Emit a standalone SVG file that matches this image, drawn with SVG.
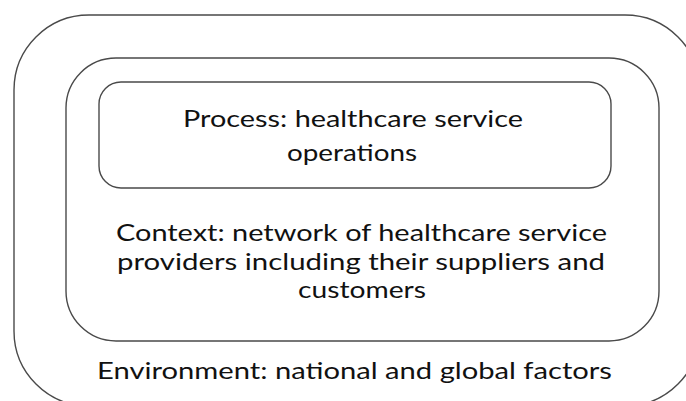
<svg xmlns="http://www.w3.org/2000/svg" width="686" height="401" viewBox="0 0 686 401">
  <style>
    .frame { fill: none; stroke: #4a4a4a; stroke-width: 1.4; }
    .label { font-family: Lato, "Open Sans", "Liberation Sans", sans-serif; font-size: 23px; fill: #111111; }
  </style>
  <rect x="0" y="0" width="686" height="401" fill="#ffffff"/>

  <!-- Environment: outermost layer -->
  <g id="environment">
    <rect class="frame" x="14" y="15" width="686" height="391" rx="75" ry="75"/>
    <text class="label" x="97" y="379" textLength="515" lengthAdjust="spacingAndGlyphs">Environment: national and global factors</text>
  </g>

  <!-- Context: network of providers -->
  <g id="context">
    <rect class="frame" x="66" y="58" width="593" height="283" rx="50" ry="50"/>
    <text class="label" x="116" y="241" textLength="491" lengthAdjust="spacingAndGlyphs">Context: network of healthcare service</text>
    <text class="label" x="117" y="269.5" textLength="488" lengthAdjust="spacingAndGlyphs">providers including their suppliers and</text>
    <text class="label" x="298" y="298" textLength="128" lengthAdjust="spacingAndGlyphs">customers</text>
  </g>

  <!-- Process: innermost layer -->
  <g id="process">
    <rect class="frame" x="99" y="82" width="512" height="106" rx="22" ry="22"/>
    <text class="label" x="183" y="127" textLength="340" lengthAdjust="spacingAndGlyphs">Process: healthcare service</text>
    <text class="label" x="287" y="161" textLength="130" lengthAdjust="spacingAndGlyphs">operations</text>
  </g>

  <g id="connectors"></g>
</svg>
